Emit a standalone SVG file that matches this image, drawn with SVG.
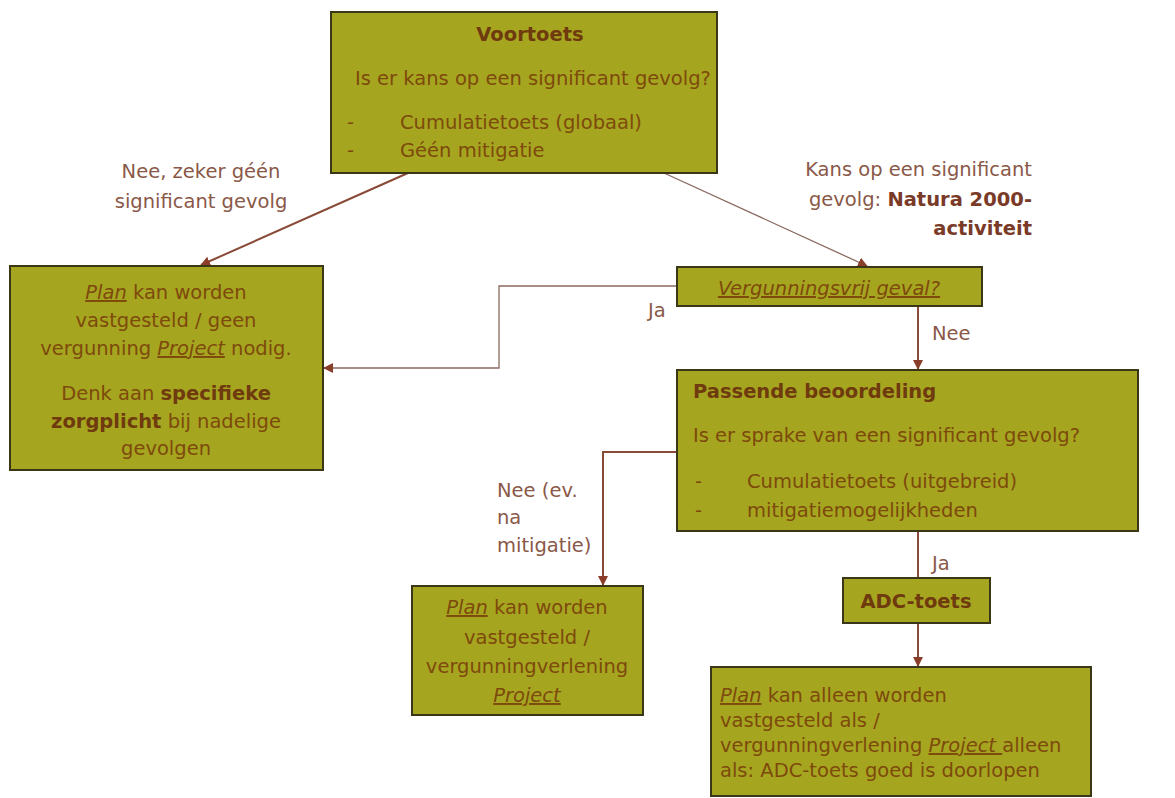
<svg xmlns="http://www.w3.org/2000/svg" width="1175" height="798" viewBox="0 0 1175 798">
<defs>
<marker id="ah" markerWidth="10" markerHeight="10" refX="9" refY="5" orient="auto" markerUnits="userSpaceOnUse">
<path d="M0,0 L10,5 L0,10 Z" fill="#8a3e2a"/>
</marker>
<style>
.box{fill:#a6a520;stroke:#3a3618;stroke-width:2}
.t{font-family:"DejaVu Sans","Open Sans",sans-serif;font-size:19.5px;fill:#7d4a0c}
.b{font-weight:bold;fill:#6e3a0e}
.lbl{font-family:"DejaVu Sans","Open Sans",sans-serif;font-size:19.5px;fill:#8a5848}
.lb{font-weight:bold;fill:#7a3a28}
.c{fill:none;stroke:#8a4a38;stroke-width:2}
.thin{fill:none;stroke:#8a6a60;stroke-width:1.3}
.u{text-decoration:underline}
.i{font-style:italic}
</style>
</defs>
<rect width="1175" height="798" fill="#ffffff"/>

<g id="connectors">
<line class="c" x1="408" y1="173" x2="201" y2="265" marker-end="url(#ah)"/>
<line class="thin" x1="664" y1="173" x2="867" y2="266" marker-end="url(#ah)"/>
<polyline class="thin" points="677,286 499,286 499,368 324,368" marker-end="url(#ah)"/>
<line class="c" x1="918" y1="307" x2="918" y2="369" marker-end="url(#ah)"/>
<polyline class="c" points="677,452 603,452 603,585" marker-end="url(#ah)"/>
<line class="c" x1="918" y1="531" x2="918" y2="578"/>
<line class="c" x1="918" y1="623" x2="918" y2="666" marker-end="url(#ah)"/>
</g>

<g id="labels">
<text class="lbl" x="201" y="178" text-anchor="middle">Nee, zeker géén</text>
<text class="lbl" x="201" y="208" text-anchor="middle">significant gevolg</text>
<text class="lbl" x="1032" y="176" text-anchor="end">Kans op een significant</text>
<text class="lbl" x="1032" y="206" text-anchor="end">gevolg: <tspan class="lb">Natura 2000-</tspan></text>
<text class="lbl lb" x="1032" y="235" text-anchor="end">activiteit</text>
<text class="lbl" x="648" y="317">Ja</text>
<text class="lbl" x="932" y="340">Nee</text>
<text class="lbl" x="497" y="497">Nee (ev.</text>
<text class="lbl" x="497" y="524">na</text>
<text class="lbl" x="497" y="552">mitigatie)</text>
<text class="lbl" x="932" y="570">Ja</text>
</g>

<g id="voortoets">
<rect class="box" x="331" y="12" width="386" height="161"/>
<text class="t b" x="530" y="41" text-anchor="middle">Voortoets</text>
<text class="t" x="355" y="85">Is er kans op een significant gevolg?</text>
<text class="t" x="347" y="129">-</text>
<text class="t" x="400" y="129">Cumulatietoets (globaal)</text>
<text class="t" x="347" y="157">-</text>
<text class="t" x="400" y="157">Géén mitigatie</text>
</g>

<g id="geen-vergunning">
<rect class="box" x="10" y="266" width="313" height="204"/>
<text class="t" x="166" y="299" text-anchor="middle"><tspan class="u i">Plan</tspan> kan worden</text>
<text class="t" x="166" y="327" text-anchor="middle">vastgesteld / geen</text>
<text class="t" x="166" y="355" text-anchor="middle">vergunning <tspan class="u i">Project</tspan> nodig.</text>
<text class="t" x="166" y="400" text-anchor="middle">Denk aan <tspan class="b">specifieke</tspan></text>
<text class="t" x="166" y="428" text-anchor="middle"><tspan class="b">zorgplicht</tspan> bij nadelige</text>
<text class="t" x="166" y="455" text-anchor="middle">gevolgen</text>
</g>

<g id="vergunningsvrij">
<rect class="box" x="677" y="267" width="305" height="39"/>
<text class="t i u" x="829" y="295" text-anchor="middle">Vergunningsvrij geval?</text>
</g>

<g id="passende-beoordeling">
<rect class="box" x="677" y="370" width="461" height="161"/>
<text class="t b" x="693" y="398">Passende beoordeling</text>
<text class="t" x="693" y="442">Is er sprake van een significant gevolg?</text>
<text class="t" x="695" y="488">-</text>
<text class="t" x="747" y="488">Cumulatietoets (uitgebreid)</text>
<text class="t" x="695" y="517">-</text>
<text class="t" x="747" y="517">mitigatiemogelijkheden</text>
</g>

<g id="adc-toets">
<rect class="box" x="843" y="578" width="147" height="45"/>
<text class="t b" x="916" y="608" text-anchor="middle">ADC-toets</text>
</g>

<g id="vergunningverlening">
<rect class="box" x="412" y="586" width="231" height="129"/>
<text class="t" x="527" y="614" text-anchor="middle"><tspan class="u i">Plan</tspan> kan worden</text>
<text class="t" x="527" y="644" text-anchor="middle">vastgesteld /</text>
<text class="t" x="527" y="673" text-anchor="middle">vergunningverlening</text>
<text class="t i u" x="527" y="702" text-anchor="middle">Project</text>
</g>

<g id="adc-uitkomst">
<rect class="box" x="711" y="667" width="380" height="129"/>
<text class="t" x="720" y="702"><tspan class="u i">Plan</tspan> kan alleen worden</text>
<text class="t" x="720" y="727">vastgesteld als /</text>
<text class="t" x="720" y="752">vergunningverlening <tspan class="u i">Project </tspan>alleen</text>
<text class="t" x="720" y="777">als: ADC-toets goed is doorlopen</text>
</g>
</svg>
